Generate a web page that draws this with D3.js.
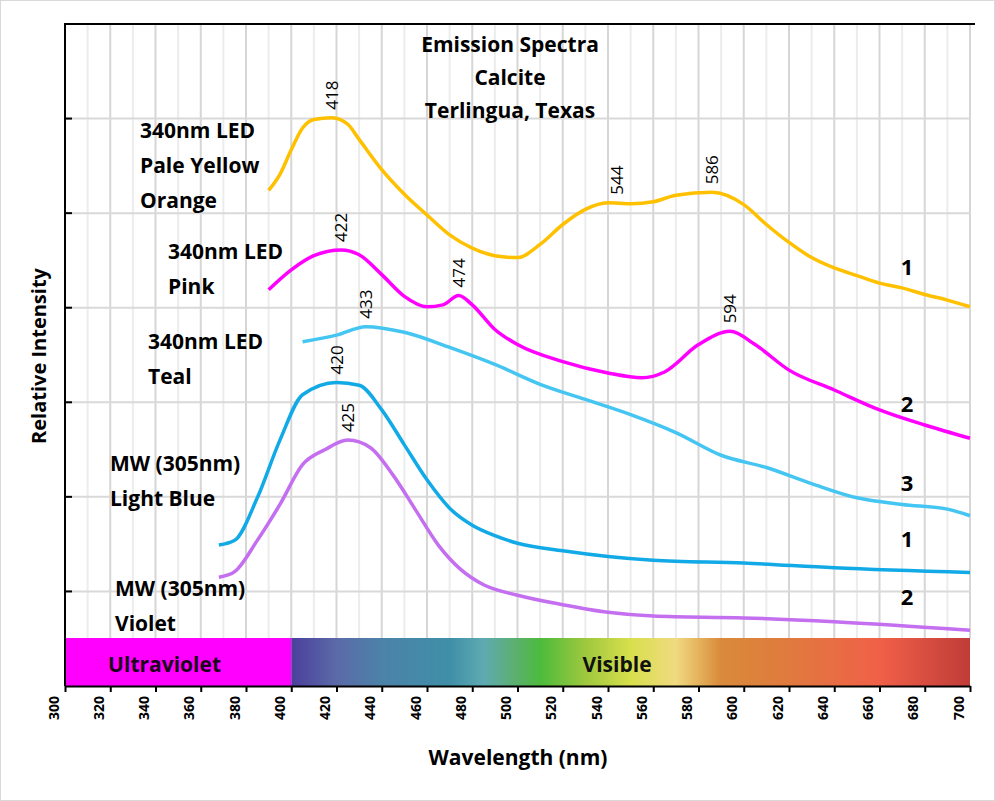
<!DOCTYPE html><html><head><meta charset="utf-8"><script src="https://cdn.jsdelivr.net/npm/d3@7"></script>
<style>body{margin:0;background:#fff}</style></head><body><svg id="c" width="995" height="801"></svg><script>
const orange=[[390,5.24],[395,5.41],[400,5.67],[405,5.9],[410,5.99],[418,6.01],[425,5.94],[430,5.78],[440,5.46],[450,5.2],[460,4.98],[470,4.77],[480,4.63],[490,4.55],[500,4.53],[510,4.67],[520,4.88],[530,5.04],[540,5.11],[550,5.1],[560,5.12],[570,5.19],[586,5.22],[600,5.09],[610,4.88],[620,4.69],[630,4.53],[640,4.42],[650,4.34],[660,4.26],[670,4.21],[680,4.14],[690,4.08],[700,4.01]];
const pink=[[390,4.19],[400,4.4],[410,4.55],[422,4.61],[430,4.56],[440,4.35],[450,4.12],[460,4.01],[467,4.03],[474,4.13],[480,4.03],[490,3.77],[500,3.61],[520,3.43],[540,3.31],[555,3.26],[565,3.32],[580,3.61],[594,3.75],[605,3.61],[620,3.34],[640,3.13],[660,2.92],[680,2.76],[700,2.62]];
const teal=[[405,3.64],[420,3.71],[433,3.8],[450,3.74],[470,3.58],[490,3.4],[510,3.19],[530,3.03],[550,2.87],[570,2.68],[590,2.44],[610,2.31],[630,2.14],[650,1.99],[670,1.92],[690,1.87],[700,1.8]];
const blue=[[368,1.49],[375,1.54],[385,1.99],[395,2.6],[405,3.08],[420,3.21],[430,3.18],[440,2.92],[450,2.55],[460,2.18],[470,1.88],[480,1.7],[490,1.59],[500,1.51],[520,1.43],[540,1.37],[560,1.33],[600,1.3],[640,1.25],[700,1.2]];
const violet=[[368,1.15],[375,1.21],[385,1.54],[395,1.92],[405,2.34],[415,2.5],[425,2.6],[435,2.52],[445,2.23],[455,1.86],[465,1.49],[475,1.23],[485,1.07],[500,0.96],[520,0.86],[540,0.78],[560,0.74],[600,0.72],[640,0.68],[700,0.59]];
const series=[{d:orange,c:"#ffc000"},{d:pink,c:"#ff00ff"},{d:teal,c:"#45c6f2"},{d:blue,c:"#12aae6"},{d:violet,c:"#c46ef0"}];
const peaks=[[418,6.01],[544,5.11],[586,5.22],[422,4.61],[474,4.13],[594,3.75],[433,3.8],[420,3.21],[425,2.6]];
const seriesLabels=[{t:["340nm LED","Pale Yellow","Orange"],x:140,y:138},{t:["340nm LED","Pink"],x:168,y:259},{t:["340nm LED","Teal"],x:148,y:349},{t:["MW (305nm)","Light Blue"],x:110,y:471},{t:["MW (305nm)","Violet"],x:115,y:596}];
const endNums=[["1",4.21],["2",2.76],["3",1.92],["1",1.33],["2",0.72]];
const xTicks=d3.range(300,701,20);
const gradStops=[[400,"#4b3f9c"],[420,"#5b6aa8"],[440,"#4c82a8"],[470,"#3f8fa8"],[485,"#5eaab2"],[500,"#5bb06a"],[510,"#4cbb3c"],[530,"#9ec83e"],[550,"#d8df4c"],[570,"#f0da80"],[590,"#d98a3a"],[620,"#e07a3e"],[660,"#f06048"],[700,"#c03c38"]];
const F="Open Sans";
const svg=d3.select("#c");
const x=d3.scaleLinear().domain([300,700]).range([65,970]);
const y=d3.scaleLinear().domain([0,7]).range([686,24]);
svg.append("rect").attr("x",0.5).attr("y",0.5).attr("width",994).attr("height",800).attr("fill","none").attr("stroke","#d9d9d9");
const g=svg.append("g");
d3.range(310,701,10).forEach(v=>g.append("line").attr("x1",x(v)).attr("x2",x(v)).attr("y1",24).attr("y2",638).attr("stroke",v%20==0?"#d6d6d6":"#ececec").attr("stroke-width",2));
d3.range(1,7).forEach(v=>g.append("line").attr("x1",65).attr("x2",970).attr("y1",y(v)).attr("y2",y(v)).attr("stroke","#d9d9d9").attr("stroke-width",2));
d3.range(1,7).forEach(v=>g.append("line").attr("x1",65).attr("x2",72).attr("y1",y(v)).attr("y2",y(v)).attr("stroke","#000").attr("stroke-width",2));
const defs=svg.append("defs");
const lg=defs.append("linearGradient").attr("id","sp").attr("gradientUnits","userSpaceOnUse").attr("x1",x(400)).attr("x2",x(700)).attr("y1",0).attr("y2",0);
gradStops.forEach(s=>lg.append("stop").attr("offset",(s[0]-400)/300).attr("stop-color",s[1]));
svg.append("rect").attr("x",x(300)).attr("y",638).attr("width",x(400)-x(300)).attr("height",48).attr("fill","#ff00ff");
svg.append("rect").attr("x",x(400)).attr("y",638).attr("width",x(700)-x(400)).attr("height",48).attr("fill","url(#sp)");
svg.append("text").attr("x",x(344)).attr("y",672).attr("text-anchor","middle").attr("font-family",F).attr("font-weight","bold").attr("font-size",21).attr("fill","#1a001a").text("Ultraviolet");
svg.append("text").attr("x",x(544)).attr("y",672).attr("text-anchor","middle").attr("font-family",F).attr("font-weight","bold").attr("font-size",21).attr("fill","#111").text("Visible");
svg.append("line").attr("x1",65).attr("x2",65).attr("y1",23).attr("y2",686).attr("stroke","#000").attr("stroke-width",2);
svg.append("line").attr("x1",64).attr("x2",975).attr("y1",24).attr("y2",24).attr("stroke","#000").attr("stroke-width",2);
const ax=svg.append("g").attr("transform","translate(0,686)").call(d3.axisBottom(x).tickValues(xTicks).tickSize(6).tickSizeOuter(0));
ax.select(".domain").attr("stroke","#000").attr("stroke-width",2);
ax.selectAll("line").attr("stroke-width",2);
ax.selectAll("text").attr("transform","rotate(-90)").attr("x",-10).attr("y",-7).attr("dy","0").attr("text-anchor","end").attr("font-family",F).attr("font-weight","bold").attr("font-size",14).attr("fill","#000");
const line=d3.line().x(d=>x(d[0])).y(d=>y(d[1])).curve(d3.curveMonotoneX);
series.forEach(s=>svg.append("path").attr("d",line(s.d)).attr("fill","none").attr("stroke",s.c).attr("stroke-width",3.5));
peaks.forEach(p=>svg.append("text").attr("transform",`translate(${x(p[0])+6},${y(p[1])-8}) rotate(-90)`).attr("font-family",F).attr("font-size",17).attr("fill","#000").text(p[0]));
const T=(t,xx,yy,sz,anc)=>svg.append("text").attr("x",xx).attr("y",yy).attr("text-anchor",anc||"start").attr("font-family",F).attr("font-weight","bold").attr("font-size",sz).attr("fill","#000").text(t);
["Emission Spectra","Calcite","Terlingua, Texas"].forEach((t,i)=>T(t,510,52+i*33,21,"middle"));
seriesLabels.forEach(l=>l.t.forEach((t,i)=>T(t,l.x,l.y+i*35,21)));
endNums.forEach(e=>T(e[0],907,y(e[1])-13,22,"middle"));
T("Wavelength (nm)",518,765,21,"middle");
svg.append("text").attr("transform","translate(46,356) rotate(-90)").attr("text-anchor","middle").attr("font-family",F).attr("font-weight","bold").attr("font-size",20).text("Relative Intensity");
</script></body></html>
